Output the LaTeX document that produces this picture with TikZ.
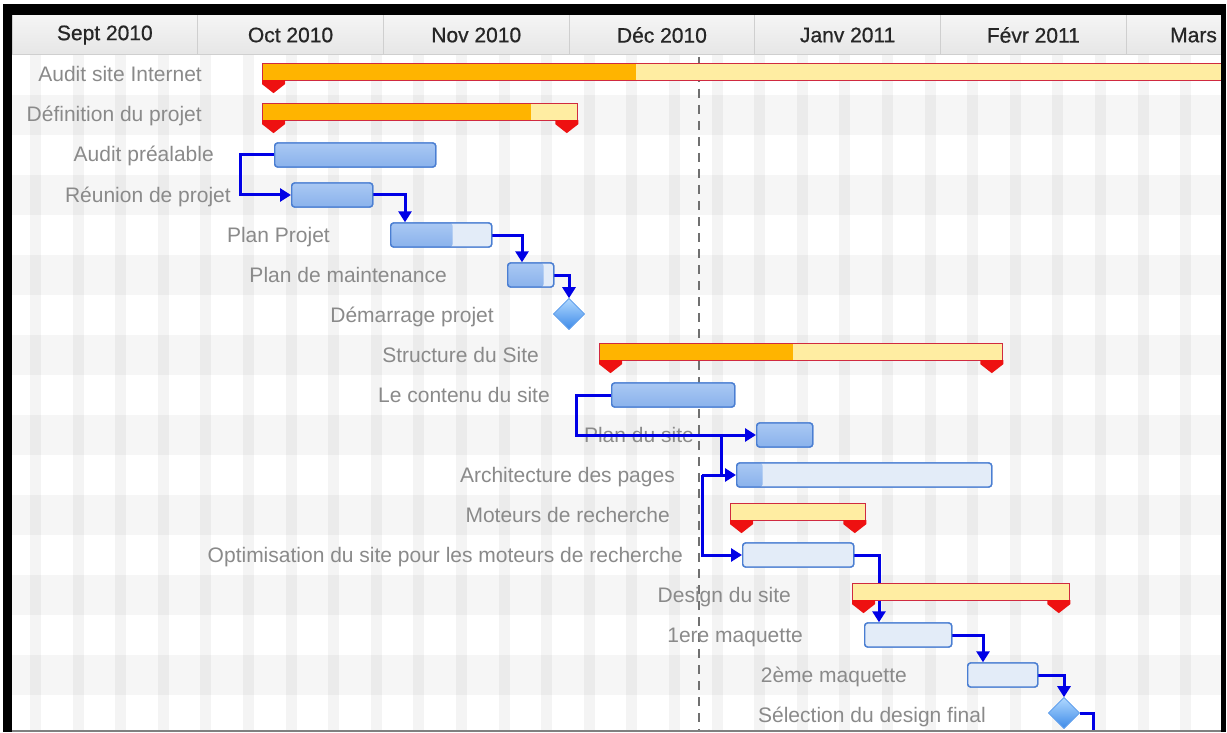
\documentclass[tikz,border=0pt]{standalone}
\usepackage{fontspec}
\setmainfont{Liberation Sans}
\newfontfamily\headfont[FakeBold=0.7]{Liberation Sans}
\usetikzlibrary{arrows.meta,shapes.geometric}
\definecolor{rowalt}{HTML}{F6F6F6}
\definecolor{labgray}{HTML}{8A8A8A}
\definecolor{headtxt}{HTML}{262626}
\definecolor{headtop}{HTML}{F5F5F5}
\definecolor{headbot}{HTML}{E6E6E6}
\definecolor{headline}{HTML}{CFCFCF}
\definecolor{taskborder}{HTML}{4A7ED2}
\definecolor{tasklight}{HTML}{E3ECF8}
\definecolor{progtop}{HTML}{A9C8F3}
\definecolor{progmid}{HTML}{6296E0}
\definecolor{progbot}{HTML}{8AB2EC}
\definecolor{sumred}{HTML}{D02A40}
\definecolor{sumorange}{HTML}{FFB400}
\definecolor{sumlight}{HTML}{FFEDA2}
\definecolor{trired}{HTML}{EE1111}
\definecolor{connblue}{HTML}{0000E6}
\definecolor{dashgray}{HTML}{707070}
\definecolor{diatop}{HTML}{B0D8FF}
\definecolor{diabot}{HTML}{3E8BE8}
\tikzset{
  lab/.style={anchor=base east, text=labgray, inner sep=0pt, font=\fontsize{21}{25}\selectfont},
  hcell/.style={draw=headline, line width=1pt, top color=headtop, bottom color=headbot, minimum width=185.7pt, minimum height=40pt, inner sep=0pt, text=headtxt, font=\headfont\fontsize{21}{25}\selectfont},
  task/.style={draw=taskborder, line width=1.4pt, rounded corners=3pt, fill=tasklight, minimum height=24pt, inner sep=0pt, anchor=west},
  prog/.style={path picture={\shade[top color=progtop, middle color=progmid, bottom color=progbot] (path picture bounding box.south west) rectangle ([xshift=#1]path picture bounding box.north west);}},
  sumbar/.style={draw=sumred, line width=1.3pt, fill=sumlight, minimum height=17pt, inner sep=0pt, anchor=west},
  sprog/.style={path picture={\fill[sumorange] (path picture bounding box.south west) rectangle ([xshift=#1]path picture bounding box.north west);}},
  sumtri/.pic={\fill[trired] (0,-1) -- (23,-1) -- (23,3) -- (11.5,12) -- (0,3) -- cycle;},
  conn/.style={draw=connblue, line width=3pt, -{Triangle[length=11pt,width=13pt]}},
  connplain/.style={draw=connblue, line width=3pt},
  milestone/.style={diamond, aspect=1, minimum width=31pt, minimum height=31pt, inner sep=0pt, top color=diatop, bottom color=diabot, draw=diabot!80!white, line width=0.6pt},
}
\begin{document}
\begin{tikzpicture}[x=1pt,y=-1pt]
\useasboundingbox (0,0) rectangle (1227,733);
\fill[white] (0,0) rectangle (1227,733);
\begin{scope}
\clip (12,15) rectangle (1221,731);
% row bands
\foreach \i in {2,4,...,16} \fill[rowalt] (12,{15+40*\i}) rectangle (1221,{55+40*\i});
% weekend stripes
\foreach \k in {0,...,28} \fill[black, opacity=0.045] ({30+42.6*\k},55) rectangle ++(11,680);
% header
\foreach \i/\t in {0/Sept 2010,1/Oct 2010,2/Nov 2010,3/Déc 2010,4/Janv 2011,5/Févr 2011,6/Mars 2011}
  \node[hcell] (h\i) at ({12+185.7*\i+92.85},35) {\t};
% today line
\draw[dashgray, line width=2.5pt, dash pattern=on 9pt off 7pt] (699,57) -- (699,735);
% labels
\node[lab] (l1) at (202,82) {Audit site Internet};
\node[lab] (l2) at (202,122) {Définition du projet};
\node[lab] (l3) at (214,162) {Audit préalable};
\node[lab] (l4) at (231,202) {Réunion de projet};
\node[lab] (l5) at (330,242) {Plan Projet};
\node[lab] (l6) at (447,282) {Plan de maintenance};
\node[lab] (l7) at (494,322) {Démarrage projet};
\node[lab] (l8) at (539,362) {Structure du Site};
\node[lab] (l9) at (550,402) {Le contenu du site};
\node[lab] (l10) at (694,442) {Plan du site};
\node[lab] (l11) at (675,482) {Architecture des pages};
\node[lab] (l12) at (670,522) {Moteurs de recherche};
\node[lab] (l13) at (683,562) {Optimisation du site pour les moteurs de recherche};
\node[lab] (l14) at (791,602) {Design du site};
\node[lab] (l15) at (803,642) {1ere maquette};
\node[lab] (l16) at (907,682) {2ème maquette};
\node[lab] (l17) at (986,722) {Sélection du design final};
% task nodes (anchors for connectors)
\path
  (274,155) node[task, prog=500pt, minimum width=161pt] (ap) {}
  (291,195) node[task, prog=500pt, minimum width=81pt] (rp) {}
  (390,235) node[task, prog=62pt, minimum width=101pt] (pp) {}
  (507,275) node[task, prog=36pt, minimum width=46pt] (pm) {}
  (611,395) node[task, prog=500pt, minimum width=123pt] (lc) {}
  (756,435) node[task, prog=500pt, minimum width=56pt] (ps) {}
  (736,475) node[task, prog=26pt, minimum width=255pt] (ar) {}
  (742,555) node[task, minimum width=111pt] (op) {}
  (864,635) node[task, minimum width=87pt] (m1) {}
  (967,675) node[task, minimum width=70pt] (m2) {};
\node[milestone] (dp) at (569,314) {};
\node[milestone] (sd) at (1064,713) {};
% connectors
\coordinate (j1) at (721,435);
\coordinate (j2) at (702,475);
\coordinate (endc) at (1093,745);
\draw[conn] (ap.west) -- ++(-34,0) |- (rp.west);
\draw[conn] (rp.east) -| ([xshift=15pt]pp.north west);
\draw[conn] (pp.east) -| ([xshift=15pt]pm.north west);
\draw[conn] (pm.east) -| (dp.north);
\draw[conn] (lc.west) -- ++(-35,0) |- (ps.west);
\draw[connplain] (j1) -- (j1 |- ar.west);
\draw[conn] (j2) -- (ar.west);
\draw[conn] (j2) |- (op.west);
\draw[conn] (op.east) -| ([xshift=15pt]m1.north west);
\draw[conn] (m1.east) -| ([xshift=16pt]m2.north west);
\draw[conn] (m2.east) -| (sd.north);
\draw[connplain] (sd.east) -| (endc);
% summary bars
\node[sumbar, sprog=373pt, minimum width=1000pt] (s1) at (262,72) {};
\node[sumbar, sprog=268pt, minimum width=315pt] (s2) at (262,112) {};
\node[sumbar, sprog=193pt, minimum width=403pt] (s8) at (599,352) {};
\node[sumbar, minimum width=135pt] (s12) at (730,512) {};
\node[sumbar, minimum width=217pt] (s14) at (852,592) {};
\pic at (s1.south west) {sumtri};
\pic at (s2.south west) {sumtri};
\pic at ([xshift=-23pt]s2.south east) {sumtri};
\pic at (s8.south west) {sumtri};
\pic at ([xshift=-23pt]s8.south east) {sumtri};
\pic at (s12.south west) {sumtri};
\pic at ([xshift=-23pt]s12.south east) {sumtri};
\pic at (s14.south west) {sumtri};
\pic at ([xshift=-23pt]s14.south east) {sumtri};
% task bars and milestones redrawn on top of the connectors
\path
  (274,155) node[task, prog=500pt, minimum width=161pt] (ap2) {}
  (291,195) node[task, prog=500pt, minimum width=81pt] (rp2) {}
  (390,235) node[task, prog=62pt, minimum width=101pt] (pp2) {}
  (507,275) node[task, prog=36pt, minimum width=46pt] (pm2) {}
  (611,395) node[task, prog=500pt, minimum width=123pt] (lc2) {}
  (756,435) node[task, prog=500pt, minimum width=56pt] (ps2) {}
  (736,475) node[task, prog=26pt, minimum width=255pt] (ar2) {}
  (742,555) node[task, minimum width=111pt] (op2) {}
  (864,635) node[task, minimum width=87pt] (m12) {}
  (967,675) node[task, minimum width=70pt] (m22) {};
\node[milestone] (dp2) at (569,314) {};
\node[milestone] (sd2) at (1064,713) {};
\end{scope}
% frame
\fill[black] (3,4) rectangle (1226,15);
\fill[black] (3,4) rectangle (12,732);
\fill[black] (1221,4) rectangle (1226,732);
\draw[gray, line width=2pt] (12,731) -- (1221,731);
\end{tikzpicture}
\end{document}
